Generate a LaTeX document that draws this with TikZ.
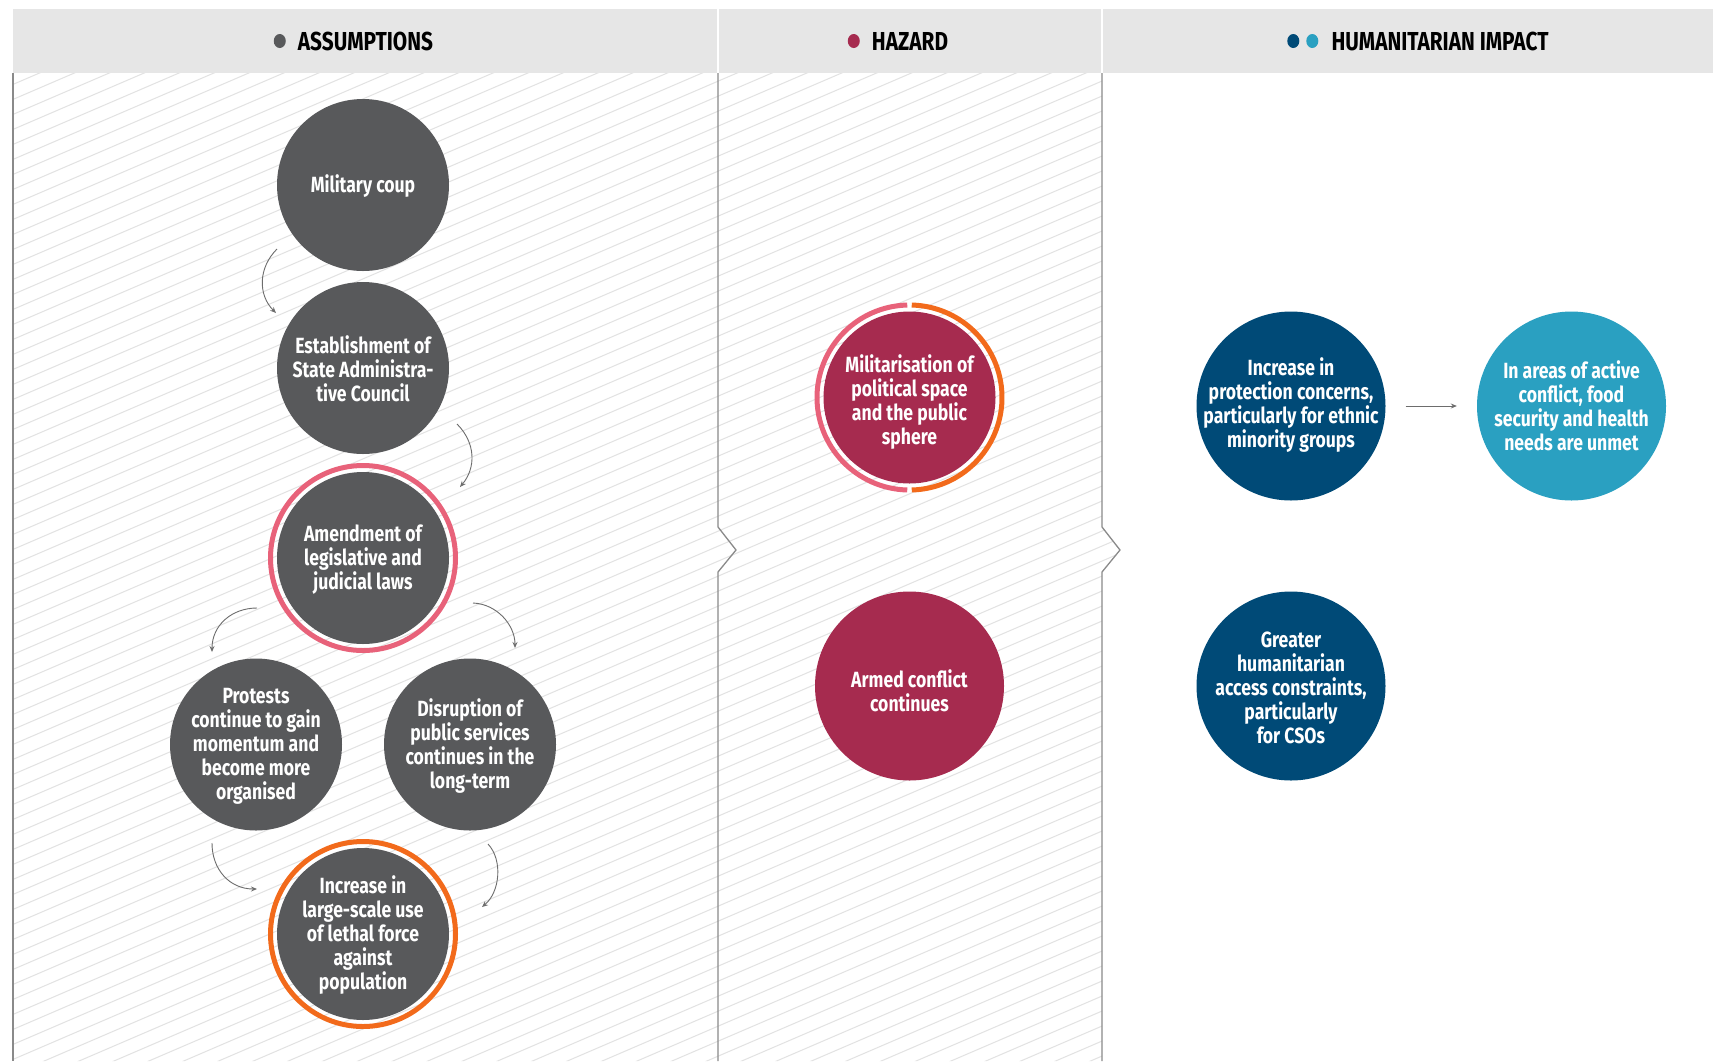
\documentclass[tikz,border=0pt]{standalone}
\usepackage{fontspec}
\usetikzlibrary{arrows.meta}
\newfontfamily\cfont{Fira Sans}[FakeStretch=0.8]
\newfontfamily\hfont{Fira Sans}[FakeStretch=0.8]
\definecolor{cgray}{HTML}{58595B}
\definecolor{ccrim}{HTML}{A62B4F}
\definecolor{cpink}{HTML}{E8627A}
\definecolor{corange}{HTML}{F26A1B}
\definecolor{cnavy}{HTML}{004A77}
\definecolor{cteal}{HTML}{2AA0C1}
\definecolor{chead}{HTML}{E6E6E6}
\definecolor{chatch}{HTML}{E2E2E2}
\definecolor{cdiv}{HTML}{8A8A8A}
\definecolor{carrow}{HTML}{6D6D6D}
\begin{document}
\begin{tikzpicture}[x=1pt,y=-1pt,
  disc/.style={circle,inner sep=0pt,minimum size=#1,draw=none},
  gdisc/.style={disc=172pt,fill=cgray},
  hdisc/.style={disc=172pt,fill=ccrim},
  bigdisc/.style={disc=189pt,fill=#1},
  ctext/.style={text=white,align=center,font=\cfont\bfseries\fontsize{22}{24}\selectfont,inner sep=0pt},
  htext/.style={text=black,font=\hfont\bfseries\fontsize{26}{28}\selectfont,inner sep=0pt},
  ring/.style={draw=#1,line width=5pt},
  hatch/.style={draw=chatch,line width=1pt},
  divider/.style={draw=cdiv,line width=1.3pt},
  conn/.style={draw=carrow,line width=0.9pt,-{Stealth[length=6pt,width=5pt]}}
]
\useasboundingbox (0,0) rectangle (1713,1061);
\fill[white] (0,0) rectangle (1713,1061);

% header
\fill[chead] (13,9) rectangle (1713,73);
\draw[white,line width=2pt] (718,9) -- (718,73);
\draw[white,line width=2pt] (1102,9) -- (1102,73);

\node[htext] (hA) at (365.5,41) {ASSUMPTIONS};
\node[htext] (hH) at (910,41) {HAZARD};
\node[htext] (hI) at (1440,41) {HUMANITARIAN IMPACT};
\fill[cgray] ([xshift=-18pt]hA.west) ellipse (6pt and 7pt);
\fill[ccrim] ([xshift=-18pt]hH.west) ellipse (6pt and 7pt);
\fill[cteal] ([xshift=-19pt]hI.west) ellipse (6pt and 7pt);
\fill[cnavy] ([xshift=-38pt]hI.west) ellipse (6pt and 7pt);

% hatching
\begin{scope}
\clip (13,73) -- (1102,73) -- (1102,527) -- (1120,550) -- (1102,572) -- (1102,1061) -- (13,1061) -- cycle;
\foreach \c in {60,75,...,1575} \draw[hatch] (0,\c) -- (1130,\c-486);
\end{scope}

% dividers
\draw[divider] (13,73) -- (13,1061);
\draw[divider] (718,73) -- (718,527) -- (736,550) -- (718,572) -- (718,1061);
\draw[divider] (1102,73) -- (1102,527) -- (1120,550) -- (1102,572) -- (1102,1061);

% assumptions
\node[gdisc] (coup) at (363,185) {};
\node[ctext] (coup-t) at ([yshift=-1pt]coup.center) {Military coup};
\node[gdisc] (sac) at (363,368) {};
\node[ctext] (sac-t) at ([yshift=-1pt]sac.center) {Establishment of\\State Administra-\\tive Council};
\node[gdisc] (amend) at (363,558) {};
\node[ctext] (amend-t) at ([yshift=-2pt]amend.center) {Amendment of\\legislative and\\judicial laws};
\draw[ring=cpink] (amend.center) circle (92.5);
\node[gdisc] (prot) at (256,744.5) {};
\node[ctext] (prot-t) at ([yshift=-2pt]prot.center) {Protests\\continue to gain\\momentum and\\become more\\organised};
\node[gdisc] (disr) at (470,744.5) {};
\node[ctext] (disr-t) at ([yshift=-2pt]disr.center) {Disruption of\\public services\\continues in the\\long-term};
\node[gdisc] (lethal) at (363,934) {};
\node[ctext] (lethal-t) at ([yshift=-1pt]lethal.center) {Increase in\\large-scale use\\of lethal force\\against\\population};
\draw[ring=corange] (lethal.center) circle (92.5);

% hazard
\node[hdisc] (mil) at (909.5,397.5) {};
\node[ctext] (mil-t) at ([yshift=-5pt]mil.center) {Militarisation of\\political space\\and the public\\sphere};
\draw[ring=cpink] ([shift={(91.4:92.5)}]mil.center) arc[start angle=91.4,end angle=268.6,radius=92.5];
\draw[ring=corange] ([shift={(-88.6:92.5)}]mil.center) arc[start angle=-88.6,end angle=88.6,radius=92.5];
\node[bigdisc=ccrim] (armed) at (909.5,686) {};
\node[ctext] (armed-t) at ([yshift=-5pt]armed.center) {Armed conflict\\continues};

% impact
\node[bigdisc=cnavy] (protc) at (1291,406) {};
\node[ctext] (protc-t) at ([yshift=1pt]protc.center) {Increase in\\protection concerns,\\particularly for ethnic\\minority groups};
\node[bigdisc=cteal] (food) at (1571.5,406) {};
\node[ctext] (food-t) at (food) {In areas of active\\conflict, food\\security and health\\needs are unmet};
\node[bigdisc=cnavy] (access) at (1291,686) {};
\node[ctext] (access-t) at ([yshift=-2pt]access.center) {Greater\\humanitarian\\access constraints,\\particularly\\for CSOs};

\draw[conn,shorten <=20pt,shorten >=20pt] (protc) -- (food);

% curved arrows
\coordinate (a1s) at (277,249); \coordinate (a1e) at (276,313);
\coordinate (a2s) at (457,424); \coordinate (a2e) at (460,487);
\coordinate (a3s) at (257,608); \coordinate (a3e) at (212,652);
\coordinate (a4s) at (473,603); \coordinate (a4e) at (515,648);
\coordinate (a5s) at (212,843); \coordinate (a5e) at (257,889);
\coordinate (a6s) at (488,844); \coordinate (a6e) at (482,907);
\draw[conn] (a1s) .. controls (258,268) and (258,295) .. (a1e);
\draw[conn] (a2s) .. controls (476,443) and (476,468) .. (a2e);
\draw[conn] (a3s) .. controls (232,608) and (212,625) .. (a3e);
\draw[conn] (a4s) .. controls (497,604) and (515,625) .. (a4e);
\draw[conn] (a5s) .. controls (212,870) and (230,889) .. (a5e);
\draw[conn] (a6s) .. controls (503,860) and (500,892) .. (a6e);
\end{tikzpicture}
\end{document}
